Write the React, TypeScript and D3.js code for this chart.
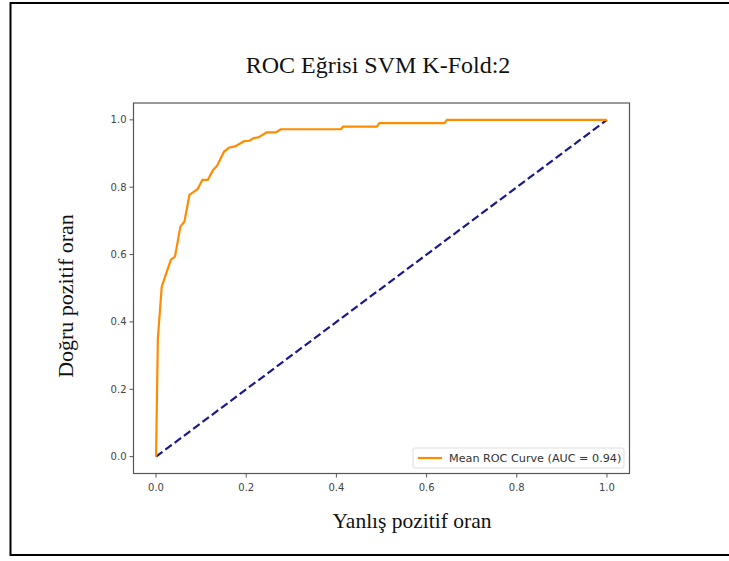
import React from "react";
import * as d3 from "d3";

const fpr = [0, 0.004, 0.0126, 0.033, 0.042, 0.054, 0.063, 0.074, 0.092, 0.103, 0.115, 0.126, 0.135, 0.151, 0.163, 0.175, 0.196, 0.207, 0.217, 0.227, 0.246, 0.266, 0.277, 0.41, 0.415, 0.49, 0.495, 0.64, 0.645, 1.0];
const tpr = [0, 0.35, 0.505, 0.585, 0.594, 0.683, 0.698, 0.777, 0.794, 0.822, 0.822, 0.85, 0.863, 0.906, 0.918, 0.921, 0.937, 0.938, 0.946, 0.948, 0.963, 0.963, 0.972, 0.972, 0.98, 0.98, 0.99, 0.99, 1.0, 1.0];
const chanceX = [0, 1];
const chanceY = [0, 1];
const ticks = [0, 0.2, 0.4, 0.6, 0.8, 1.0];
const titleText = "ROC Eğrisi SVM K-Fold:2";
const xLabel = "Yanlış pozitif oran";
const yLabel = "Doğru pozitif oran";
const legendText = "Mean ROC Curve (AUC = 0.94)";

export default function App() {
  const W = 729, H = 561;
  const left = 133.5, right = 629.5, top = 103, bottom = 473.5;
  const x = d3.scaleLinear().domain([-0.05, 1.05]).range([left, right]);
  const y = d3.scaleLinear().domain([-0.05, 1.05]).range([bottom, top]);
  const line = d3.line<[number, number]>().x(d => x(d[0])).y(d => y(d[1]));
  const roc = line(fpr.map((v, i) => [v, tpr[i]] as [number, number])) || "";
  const chance = line(chanceX.map((v, i) => [v, chanceY[i]] as [number, number])) || "";
  const tickFont = "'DejaVu Sans', sans-serif";
  const serif = "'Liberation Serif', 'Times New Roman', serif";
  return (
    <svg width={W} height={H} style={{ position: "absolute", left: 0, top: 0 }}>
      <rect x={0} y={0} width={W} height={H} fill="#fff" />
      <rect x={10.5} y={3} width={730} height={552} fill="none" stroke="#000" strokeWidth={2} />
      <text x={378} y={73} textAnchor="middle" fontFamily={serif} fontSize={24} fill="#111">{titleText}</text>
      <text x={412} y={528} textAnchor="middle" fontFamily={serif} fontSize={21.5} fill="#111">{xLabel}</text>
      <text transform={`translate(73,296) rotate(-90)`} textAnchor="middle" fontFamily={serif} fontSize={22} fill="#111">{yLabel}</text>
      <path d={chance} fill="none" stroke="#1a1a8c" strokeWidth={2.2} strokeDasharray="8,3.6" />
      <path d={roc} fill="none" stroke="#ff8c00" strokeWidth={2.2} strokeLinejoin="round" />
      <rect x={left} y={top} width={right - left} height={bottom - top} fill="none" stroke="#555" strokeWidth={1.2} />
      {ticks.map(t => (
        <g key={"x" + t}>
          <line x1={x(t)} x2={x(t)} y1={bottom} y2={bottom + 4} stroke="#555" strokeWidth={1} />
          <text x={x(t)} y={bottom + 17} textAnchor="middle" fontFamily={tickFont} fontSize={10} fill="#444">{t.toFixed(1)}</text>
        </g>
      ))}
      {ticks.map(t => (
        <g key={"y" + t}>
          <line x1={left - 4} x2={left} y1={y(t)} y2={y(t)} stroke="#555" strokeWidth={1} />
          <text x={left - 7} y={y(t) + 3.5} textAnchor="end" fontFamily={tickFont} fontSize={10} fill="#444">{t.toFixed(1)}</text>
        </g>
      ))}
      <rect x={413} y={448} width={211} height={20} rx={2} fill="#fff" fillOpacity={0.8} stroke="#ddd" strokeWidth={1} />
      <line x1={418} x2={442} y1={458} y2={458} stroke="#ff8c00" strokeWidth={2.2} />
      <text x={449} y={462} fontFamily={tickFont} fontSize={11.2} fill="#333">{legendText}</text>
    </svg>
  );
}
